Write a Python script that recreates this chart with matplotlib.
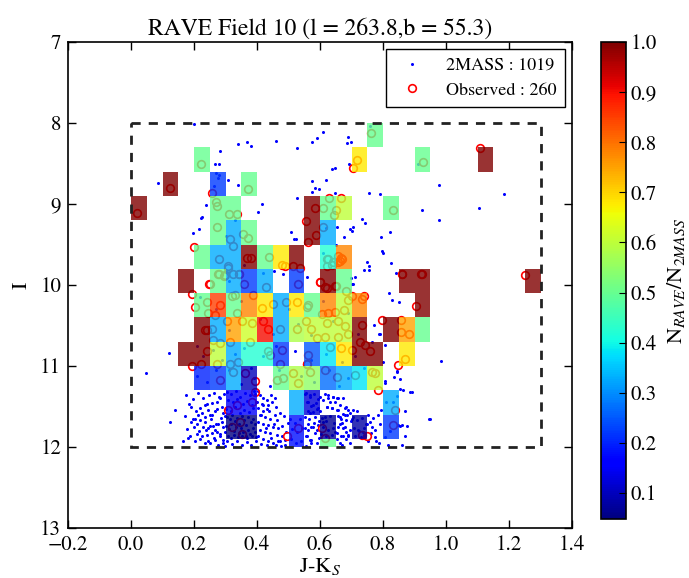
import numpy as np
import matplotlib
matplotlib.use("Agg")
import matplotlib.pyplot as plt
from matplotlib.patches import Rectangle
from matplotlib.colors import Normalize

plt.rcParams['font.family'] = ['STIXGeneral', 'DejaVu Serif']
plt.rcParams['mathtext.fontset'] = 'stix'

# ---- binning of the colour-magnitude plane ----
color_edges = np.round(np.arange(0.0, 1.3001, 0.05), 3)            # J-Ks bins
mag_edges = np.array([8.0, 8.3, 8.6, 8.9, 9.2, 9.5, 9.8, 10.1, 10.4,
                      10.7, 11.0, 11.3, 11.6, 11.9, 12.0])          # I bins

# fraction of 2MASS stars observed by RAVE, per (I row, J-Ks column) bin
ratio_rows = {
    0: {15: 0.50},
    1: {4: 0.50, 14: 0.68, 18: 0.50, 22: 1.00},
    2: {2: 1.00, 5: 0.22, 7: 0.50},
    3: {0: 1.00, 5: 0.50, 6: 0.50, 11: 1.00, 12: 0.50, 13: 0.60, 16: 0.50},
    4: {5: 0.50, 6: 0.33, 7: 0.50, 11: 1.00, 12: 0.33},
    5: {4: 0.50, 5: 0.33, 6: 0.33, 7: 1.00, 8: 0.50, 9: 0.68, 10: 1.00,
        12: 0.42, 13: 0.78},
    6: {3: 1.00, 5: 0.50, 6: 0.33, 7: 0.22, 8: 0.33, 10: 0.22, 12: 1.00,
        13: 0.50, 17: 1.00, 18: 1.00, 25: 1.00},
    7: {4: 0.50, 5: 0.85, 6: 0.50, 7: 0.78, 8: 0.68, 9: 0.33, 10: 0.68,
        11: 0.50, 12: 0.78, 13: 0.60, 14: 0.78, 18: 1.00},
    8: {4: 1.00, 5: 0.33, 6: 0.75, 7: 0.62, 8: 0.90, 9: 0.33, 10: 0.58,
        11: 0.60, 12: 0.60, 13: 0.60, 14: 1.00, 16: 1.00, 17: 0.75, 18: 0.50},
    9: {3: 1.00, 4: 1.00, 5: 0.60, 6: 0.33, 7: 0.42, 8: 0.42, 9: 0.22,
        11: 0.25, 12: 0.38, 13: 0.68, 14: 1.00, 15: 1.00, 17: 0.68},
    10: {4: 0.20, 5: 0.22, 6: 0.33, 7: 0.10, 9: 0.50, 10: 0.58, 11: 0.55,
         12: 0.27, 13: 0.33, 14: 0.38, 15: 0.60},
    11: {6: 0.15, 7: 0.15, 10: 0.33, 11: 0.12, 16: 0.33},
    12: {6: 0.048, 7: 0.048, 10: 0.18, 12: 0.07, 14: 0.08, 16: 0.22},
    13: {10: 0.18, 12: 0.50},
}

# ---- 2MASS stars (J-Ks, I) ----
tm_jk = [
    0.200, 0.283, 0.339, 0.369, 0.381, 0.459, 0.526, 0.576, 0.589, 0.608, 0.688, 0.698, 0.685, 0.759,
    0.267, 0.280, 0.639, 0.649, 0.693, 0.910, 0.085, 0.309, 0.341, 0.576, 0.620, 0.585, 0.597, 0.574,
    0.648, 0.757, 0.790, 0.977, 1.184, 0.416, 0.527, 0.237, 0.402, 0.224, 0.222, 0.215, 0.196, 0.507,
    0.517, 0.525, 0.676, 0.653, 1.106, 0.923, 0.977, 0.733, 0.743, 0.695, 0.706, 0.700, 0.793, 0.822,
    0.797, 0.800, 0.825, 0.750, 0.755, 0.757, 0.739, 0.712, 0.698, 0.703, 0.842, 0.455, 0.481,
    0.270, 0.280, 0.275, 0.262,
    0.704, 0.819, 0.830, 0.851, 0.771, 0.788, 0.764, 0.806, 0.985, 0.835, 0.854, 0.843, 0.806, 0.887,
    0.846, 0.947, 0.854, 0.875, 0.859, 0.122, 0.048, 0.790, 0.801, 0.843,
    0.192, 0.219, 0.235, 0.242, 0.256, 0.272, 0.282, 0.288, 0.267, 0.251, 0.235, 0.219, 0.203, 0.189,
    0.208, 0.230, 0.245, 0.261, 0.277, 0.288, 0.293, 0.272, 0.256, 0.240, 0.224, 0.210, 0.282, 0.293,
    0.267, 0.251, 0.235, 0.164, 0.187, 0.124, 0.140,
    0.394, 0.409, 0.420, 0.431, 0.401, 0.415, 0.436, 0.404, 0.420, 0.439, 0.409, 0.425, 0.441, 0.457,
    0.462, 0.404, 0.420, 0.436, 0.452, 0.468, 0.409, 0.425, 0.441, 0.462, 0.478, 0.404, 0.420, 0.436,
    0.452, 0.473, 0.489, 0.457, 0.446,
    0.552, 0.568, 0.600, 0.610, 0.626, 0.642, 0.658, 0.674, 0.563, 0.579, 0.595, 0.621, 0.637, 0.653,
    0.663, 0.684, 0.568, 0.584, 0.600, 0.663, 0.679, 0.695, 0.563, 0.579, 0.663, 0.679, 0.695, 0.653,
    0.674, 0.690, 0.558, 0.573, 0.589, 0.663,
    0.615, 0.626, 0.642, 0.653, 0.631, 0.647, 0.621, 0.637, 0.658, 0.679, 0.690, 0.705, 0.716, 0.674,
    0.668, 0.684, 0.700, 0.615, 0.610, 0.594, 0.573, 0.563, 0.584, 0.557, 0.568, 0.658, 0.674, 0.684,
    0.668, 0.690, 0.721, 0.737, 0.748, 0.758, 0.764, 0.774, 0.742, 0.753, 0.779, 0.790, 0.795, 0.811,
    0.832, 0.848, 0.859, 0.869, 0.869, 0.891, 0.864, 0.853, 0.806, 0.949,
    0.305, 0.318, 0.332, 0.347, 0.362, 0.377, 0.391, 0.309, 0.323, 0.338, 0.354, 0.369, 0.384, 0.398,
    0.303, 0.316, 0.331, 0.345, 0.359, 0.374, 0.388, 0.306, 0.314, 0.321, 0.329, 0.336, 0.343, 0.351,
    0.358, 0.366, 0.373, 0.381, 0.388, 0.395, 0.302, 0.311, 0.319, 0.327, 0.334, 0.342, 0.349, 0.357,
    0.364, 0.372, 0.379, 0.386, 0.393, 0.398, 0.308, 0.317, 0.326, 0.339, 0.353, 0.368, 0.383,
    0.305, 0.322, 0.338, 0.352, 0.367, 0.381, 0.396,
    0.555, 0.568, 0.582, 0.594, 0.559, 0.573, 0.588, 0.562, 0.578, 0.592,
    0.606, 0.619, 0.633, 0.645, 0.611, 0.626, 0.641, 0.604, 0.618, 0.637, 0.648,
    0.705, 0.718, 0.733, 0.746, 0.709, 0.724, 0.739, 0.712, 0.729, 0.744,
    0.506, 0.521, 0.537, 0.512, 0.528, 0.544, 0.508, 0.525, 0.541,
    0.176, 0.198, 0.214, 0.229, 0.247, 0.263, 0.279, 0.295, 0.183, 0.205, 0.226, 0.244, 0.258, 0.274,
    0.291, 0.171, 0.196, 0.213, 0.234, 0.253, 0.269, 0.285, 0.298, 0.178, 0.199, 0.217, 0.237, 0.252,
    0.266, 0.281, 0.297, 0.182, 0.203, 0.219, 0.243, 0.262, 0.276, 0.292, 0.298,
    0.403, 0.418, 0.433, 0.447, 0.461, 0.472, 0.486, 0.497, 0.478, 0.491, 0.414, 0.428, 0.445, 0.461,
    0.476, 0.413, 0.431, 0.455, 0.467, 0.488,
    0.553, 0.566, 0.582, 0.597, 0.589, 0.552, 0.571, 0.556, 0.597, 0.657, 0.671, 0.686, 0.697, 0.681,
    0.696, 0.655, 0.669, 0.752, 0.767, 0.783, 0.761, 0.776, 0.788, 0.805, 0.822, 0.815,
    0.21, 0.23, 0.26, 0.29, 0.31, 0.33, 0.36, 0.38, 0.42, 0.46, 0.47, 0.52, 0.54, 0.57,
    0.62, 0.63, 0.67, 0.71, 0.74, 0.21, 0.24, 0.27, 0.35, 0.39, 0.44, 0.58, 0.66, 0.69,
    0.22, 0.27, 0.31, 0.35, 0.41, 0.45, 0.50, 0.53, 0.57, 0.61, 0.64, 0.69, 0.72, 0.31,
    0.36, 0.42, 0.56, 0.61, 0.30, 0.33, 0.62, 0.65,
]
tm_i = [
    8.01, 8.35, 8.26, 8.24, 8.28, 8.22, 8.31, 8.23, 8.18, 8.11, 8.17, 8.23, 8.25, 8.04,
    8.51, 8.50, 8.57, 8.55, 8.50, 8.50, 8.74, 8.70, 8.76, 8.72, 8.70, 8.80, 8.82, 8.85,
    8.86, 8.86, 8.88, 8.77, 8.88, 9.00, 8.92, 9.01, 9.10, 9.16, 9.17, 9.31, 9.36, 9.35,
    9.43, 9.43, 9.41, 9.28, 9.05, 9.07, 9.20, 9.18, 9.24, 9.31, 9.28, 9.33, 9.41, 9.35,
    9.58, 9.60, 9.73, 9.72, 9.77, 9.82, 9.82, 9.90, 9.91, 9.99, 9.85, 9.83, 9.87,
    8.62, 8.64, 8.68, 8.78,
    9.99, 10.10, 10.19, 10.21, 10.49, 10.60, 10.70, 10.74, 10.94, 11.14, 11.16, 11.06, 11.21, 11.32,
    11.37, 11.66, 11.74, 11.74, 11.97, 10.84, 11.09, 10.60, 10.95, 11.07,
    11.51, 11.52, 11.48, 11.47, 11.46, 11.45, 11.40, 11.50, 11.56, 11.60, 11.63, 11.67, 11.65, 11.69,
    11.72, 11.75, 11.77, 11.74, 11.71, 11.69, 11.75, 11.81, 11.83, 11.85, 11.87, 11.84, 11.87, 11.91,
    11.91, 11.95, 11.95, 11.92, 11.87, 11.69, 11.54,
    11.34, 11.36, 11.39, 11.42, 11.44, 11.47, 11.48, 11.52, 11.55, 11.56, 11.60, 11.63, 11.65, 11.60,
    11.67, 11.69, 11.71, 11.73, 11.75, 11.77, 11.79, 11.81, 11.83, 11.85, 11.87, 11.87, 11.90, 11.93,
    11.95, 11.93, 11.91, 11.40, 11.36,
    11.34, 11.36, 11.38, 11.42, 11.40, 11.38, 11.40, 11.39, 11.44, 11.48, 11.52, 11.50, 11.52, 11.54,
    11.48, 11.50, 11.58, 11.63, 11.56, 11.63, 11.60, 11.58, 11.71, 11.75, 11.71, 11.75, 11.79, 11.83,
    11.87, 11.85, 11.87, 11.91, 11.95, 11.95,
    11.34, 11.36, 11.38, 11.40, 11.44, 11.45, 11.50, 11.52, 11.54, 11.52, 11.54, 11.54, 11.56, 11.59,
    11.65, 11.67, 11.65, 11.63, 11.69, 11.73, 11.75, 11.79, 11.83, 11.87, 11.91, 11.75, 11.77, 11.81,
    11.87, 11.86, 11.79, 11.81, 11.71, 11.69, 11.75, 11.79, 11.87, 11.93, 11.93, 11.71, 11.54, 11.44,
    11.44, 11.73, 11.73, 11.87, 11.56, 11.32, 11.30, 11.28, 11.19, 11.66,
    11.32, 11.35, 11.31, 11.38, 11.33, 11.36, 11.31, 11.42, 11.45, 11.41, 11.47, 11.43, 11.48, 11.44,
    11.53, 11.56, 11.51, 11.58, 11.54, 11.57, 11.52, 11.63, 11.66, 11.61, 11.68, 11.64, 11.71, 11.62,
    11.67, 11.73, 11.63, 11.69, 11.65, 11.72, 11.74, 11.78, 11.72, 11.80, 11.75, 11.83, 11.77, 11.81,
    11.86, 11.79, 11.84, 11.76, 11.82, 11.88, 11.86, 11.89, 11.85, 11.88, 11.87, 11.89, 11.87,
    11.93, 11.96, 11.92, 11.98, 11.94, 11.97, 11.93,
    11.33, 11.38, 11.34, 11.41, 11.45, 11.49, 11.46, 11.55, 11.57, 11.53,
    11.64, 11.68, 11.62, 11.70, 11.75, 11.79, 11.76, 11.84, 11.87, 11.85, 11.82,
    11.63, 11.67, 11.64, 11.71, 11.76, 11.80, 11.77, 11.86, 11.88, 11.84,
    11.65, 11.70, 11.66, 11.78, 11.82, 11.76, 11.90, 11.95, 11.92,
    11.36, 11.41, 11.33, 11.39, 11.36, 11.33, 11.38, 11.34, 11.47, 11.55, 11.58, 11.54, 11.60, 11.53,
    11.58, 11.62, 11.66, 11.61, 11.69, 11.66, 11.71, 11.64, 11.62, 11.78, 11.75, 11.80, 11.79, 11.74,
    11.79, 11.84, 11.81, 11.89, 11.93, 11.90, 11.92, 11.89, 11.97, 11.95, 11.99,
    11.31, 11.48, 11.53, 11.44, 11.50, 11.58, 11.62, 11.70, 11.74, 11.81, 11.61, 11.77, 11.89, 11.98,
    11.99, 11.96, 11.97, 11.71, 11.92, 11.98,
    11.63, 11.66, 11.70, 11.68, 11.79, 11.77, 11.95, 11.99, 11.89, 11.62, 11.70, 11.61, 11.68, 11.90,
    11.95, 11.90, 11.98, 11.60, 11.64, 11.60, 11.83, 11.88, 11.95, 11.88, 11.80, 11.97,
    10.75, 10.88, 10.80, 10.93, 11.05, 10.85, 10.78, 11.02, 10.88, 10.75, 11.05, 10.82, 11.12, 10.92,
    10.85, 11.05, 10.95, 10.88, 11.02, 11.12, 11.20, 11.05, 11.22, 11.15, 11.25, 11.20, 11.25, 11.15,
    10.15, 10.30, 10.55, 10.20, 10.42, 10.60, 10.30, 10.48, 10.62, 10.20, 10.45, 10.35, 10.60, 9.95,
    9.75, 9.85, 9.90, 9.60, 9.40, 9.20, 9.30, 9.50,
]

# ---- RAVE observed stars (J-Ks, I) ----
obs_jk = [
    0.222, 0.124, 0.258, 0.020, 0.269, 0.273, 0.311, 0.335, 0.274, 0.373, 0.314, 0.323, 0.354, 0.372,
    0.200, 0.278, 0.367, 0.381, 0.439, 0.478, 0.489, 0.513, 0.536, 0.584, 0.554, 0.587, 0.562, 0.608,
    0.651, 0.645, 0.630, 0.668, 0.608, 0.621, 0.642, 0.658, 0.663, 0.249, 0.280, 0.296, 0.307, 0.342,
    0.359, 0.428, 0.531, 0.600, 0.623, 0.651,
    0.763, 0.716, 0.706, 0.928, 1.107, 0.831, 1.252, 0.860, 0.923, 0.671,
    0.307, 0.325, 0.298, 0.344, 0.277, 0.251, 0.193, 0.203, 0.240, 0.283, 0.267, 0.246, 0.256, 0.235,
    0.320, 0.330, 0.388, 0.415, 0.450, 0.492, 0.528, 0.558, 0.335, 0.304, 0.351, 0.383, 0.420, 0.436,
    0.473, 0.526,
    0.624, 0.622, 0.637, 0.666, 0.656, 0.600, 0.615, 0.649, 0.684, 0.700, 0.740, 0.734, 0.859, 0.920,
    0.906, 0.563, 0.607, 0.626, 0.647, 0.658, 0.677, 0.690, 0.732, 0.797, 0.857, 0.857, 0.882, 0.557,
    0.573, 0.621, 0.679,
    0.240, 0.261, 0.283, 0.314, 0.378, 0.436, 0.441, 0.478, 0.193, 0.221, 0.240, 0.272, 0.283, 0.314,
    0.325, 0.341, 0.362, 0.394, 0.394, 0.385, 0.336, 0.309, 0.346, 0.352, 0.320, 0.494, 0.531, 0.484,
    0.462, 0.515, 0.531, 0.473, 0.558,
    0.560, 0.568, 0.615, 0.653, 0.711, 0.764, 0.774, 0.785, 0.838, 0.832, 0.605, 0.615, 0.748, 0.732,
    0.700, 0.742, 0.758, 0.727, 0.848, 0.869, 0.631, 0.668, 0.563, 0.615, 0.589, 0.658, 0.690,
]
obs_i = [
    8.50, 8.80, 8.87, 9.11, 8.97, 9.03, 9.12, 9.12, 9.28, 8.82, 9.43, 9.52, 9.37, 9.42,
    9.53, 9.68, 9.67, 9.67, 9.65, 9.75, 9.77, 9.76, 9.79, 9.05, 9.21, 9.38, 9.47, 9.05,
    9.07, 9.14, 8.92, 8.93, 9.29, 9.68, 9.72, 9.64, 9.70, 9.99, 9.86, 9.89, 9.77, 9.86,
    9.99, 10.03, 9.99, 9.96, 10.04, 10.01,
    8.12, 8.46, 8.56, 8.48, 8.31, 9.07, 9.88, 9.87, 9.86, 9.68,
    9.79, 9.86, 9.88, 9.87, 9.87, 9.99, 10.11, 10.27, 10.21, 10.25, 10.37, 10.35, 10.54, 10.56,
    10.14, 10.12, 10.12, 10.29, 10.24, 10.21, 10.21, 10.27, 10.35, 10.45, 10.45, 10.47, 10.45, 10.54,
    10.54, 10.54,
    9.68, 9.77, 9.75, 9.67, 9.71, 9.96, 10.03, 10.01, 10.07, 10.14, 10.13, 10.17, 9.87, 9.86,
    10.26, 10.25, 10.36, 10.34, 10.33, 10.44, 10.31, 10.19, 10.49, 10.43, 10.43, 10.58, 10.60, 10.44,
    10.54, 10.47, 10.51,
    10.56, 10.68, 10.72, 10.70, 10.70, 10.82, 10.86, 10.80, 11.00, 10.98, 10.82, 10.97, 11.17, 10.97,
    11.07, 10.95, 11.09, 11.19, 11.32, 11.44, 11.48, 11.54, 11.69, 11.84, 11.75, 11.87, 11.77, 11.15,
    11.17, 11.09, 11.21, 10.97, 10.97,
    10.97, 11.07, 11.05, 11.14, 11.11, 11.07, 11.09, 11.30, 11.54, 11.73, 11.77, 11.89, 11.86, 11.85,
    10.80, 10.74, 10.82, 10.70, 10.99, 10.91, 10.76, 10.78, 10.86, 10.64, 10.66, 10.64, 10.60,
]

n_2mass = 1019
n_obs = 260

# ---- grid of ratios ----
ratio = np.full((len(mag_edges) - 1, len(color_edges) - 1), np.nan)
for row, cols in ratio_rows.items():
    for col, val in cols.items():
        ratio[row, col] = val
ratio = np.ma.masked_invalid(ratio)

fig = plt.figure(figsize=(6.89, 5.78), dpi=100)
ax = fig.add_axes([68 / 689, 50 / 578, 504 / 689, 486 / 578])
cax = fig.add_axes([601 / 689, 59 / 578, 25 / 689, 477 / 578])

norm = Normalize(vmin=float(ratio.min()), vmax=1.0)

ax.plot(tm_jk, tm_i, 'o', color='#0000ff', ms=2.2, mew=0, zorder=1,
        label='2MASS : %d' % n_2mass)
ax.plot(obs_jk, obs_i, 'o', mfc='none', mec='#ff0000', ms=5.5, mew=1.2, zorder=2,
        label='Observed : %d' % n_obs)

mesh = ax.pcolormesh(color_edges, mag_edges, ratio, cmap='jet', norm=norm,
                     alpha=0.8, edgecolors='none', linewidth=0, zorder=3)

ax.add_patch(Rectangle((0.0, 8.0), 1.3, 4.0, fill=False, ec='#222222',
                       lw=2.0, ls=(0, (3.3, 2.9)), zorder=4))

ax.set_xlim(-0.2, 1.4)
ax.set_ylim(13, 7)
ax.set_xticks(np.round(np.arange(-0.2, 1.41, 0.2), 1))
ax.set_yticks(np.arange(7, 14, 1))
ax.tick_params(direction='in', top=True, right=True, length=6, width=1,
               labelsize=15, pad=5)
for s in ax.spines.values():
    s.set_linewidth(1.2)

ax.set_xlabel('J-K$_S$', fontsize=16, labelpad=1)
ax.set_ylabel('I', fontsize=16, labelpad=6)
ax.set_title('RAVE Field 10 (l = 263.8,b = 55.3)', fontsize=17, pad=5)

leg = ax.legend(loc='upper right', fontsize=13, numpoints=1, fancybox=False,
                framealpha=1, edgecolor='k', borderpad=0.45, handletextpad=0.9,
                labelspacing=0.45, borderaxespad=0.4)
leg.get_frame().set_linewidth(1.0)

sm = plt.cm.ScalarMappable(norm=norm, cmap='jet')
cb = fig.colorbar(sm, cax=cax)
cb.set_ticks(np.round(np.arange(0.1, 1.01, 0.1), 1))
cb.ax.tick_params(direction='in', length=5, labelsize=15, pad=3)
cb.outline.set_linewidth(1.2)
cb.set_label('N$_{RAVE}$/N$_{2MASS}$', fontsize=16, labelpad=6)

fig.savefig('out.png', dpi=100)
